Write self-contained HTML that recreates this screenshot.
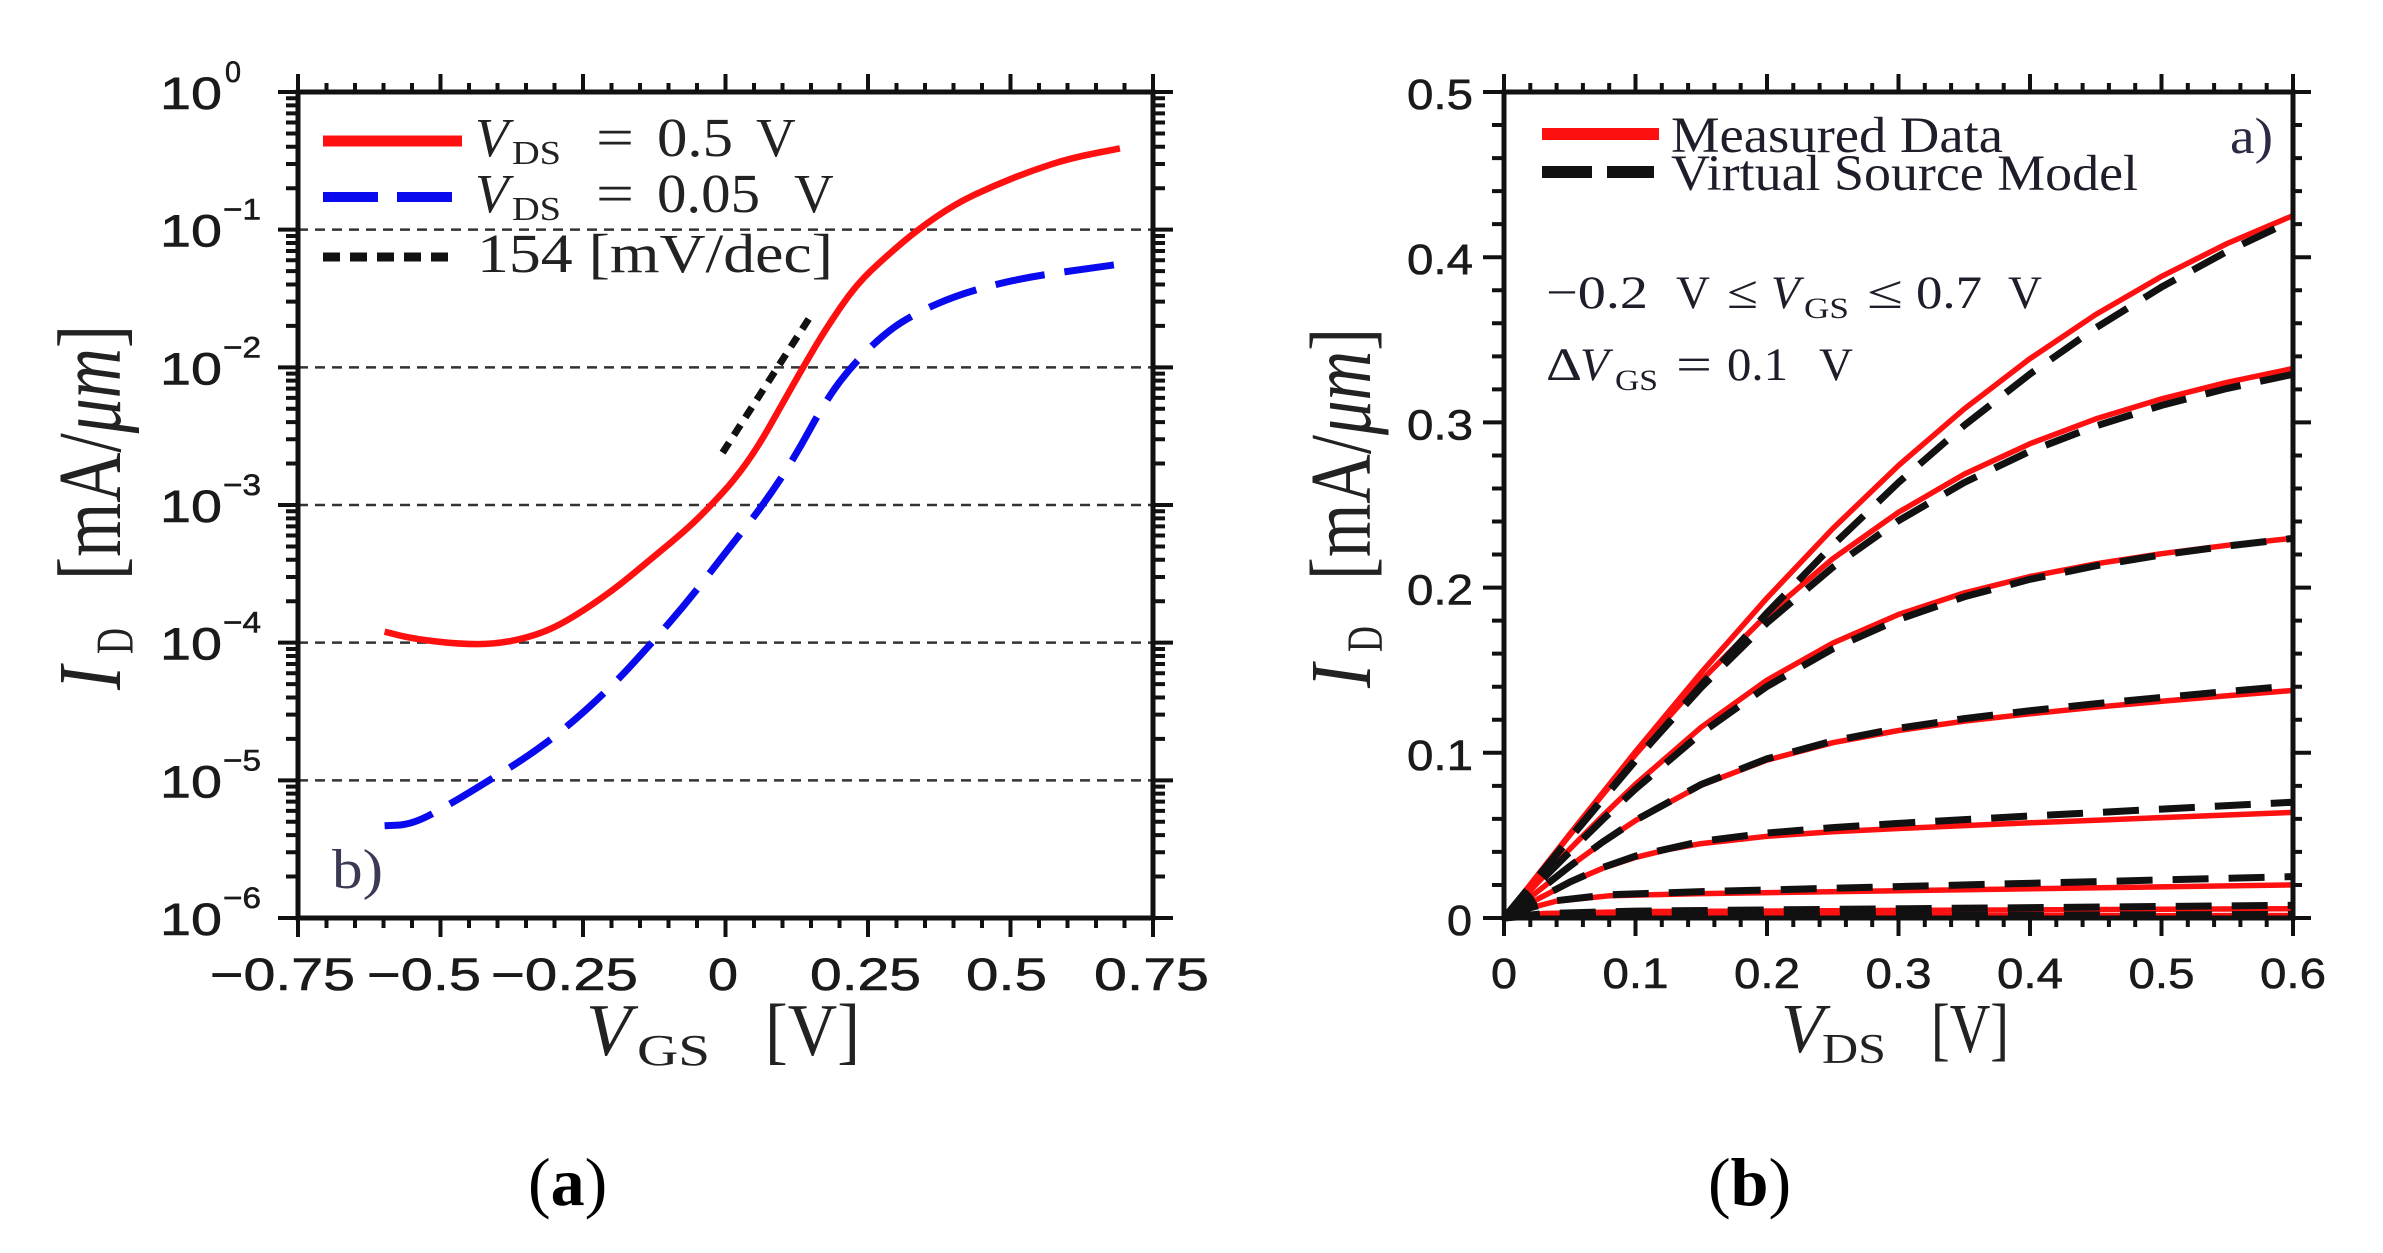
<!DOCTYPE html>
<html><head><meta charset="utf-8"><style>html,body{margin:0;padding:0;background:#fff}svg{display:block}</style></head>
<body>
<svg width="2383" height="1253" viewBox="0 0 2383 1253" xmlns="http://www.w3.org/2000/svg">
<rect width="2383" height="1253" fill="#fff"/>

<!-- ================= LEFT PLOT ================= -->
<g stroke="#333" stroke-width="2.5" stroke-dasharray="10 7">
<line x1="298" y1="229.67" x2="1153" y2="229.67"/>
<line x1="298" y1="367.33" x2="1153" y2="367.33"/>
<line x1="298" y1="505" x2="1153" y2="505"/>
<line x1="298" y1="642.67" x2="1153" y2="642.67"/>
<line x1="298" y1="780.33" x2="1153" y2="780.33"/>
</g>

<path fill="none" stroke="#ff1010" stroke-width="6.5" stroke-linejoin="round" d="M384.6,631.7 L398.3,635.15 Q412,638.6 435.35,641.35 Q458.7,644.1 477.85,644.1 Q497,644.1 516.05,639.95 Q535.1,635.8 550.5,628.9 Q565.9,622 588.7,606.85 Q611.5,591.7 630.6,575.9 Q649.7,560.1 668.8,544.25 Q687.9,528.4 699.6,516.7 Q711.3,505 722.7,492.6 Q734.1,480.2 745.5,464.4 Q756.9,448.6 768.3,428.6 Q779.7,408.6 791.35,387.95 Q803,367.3 814.4,348.05 Q825.8,328.8 840.9,306.75 Q856,284.7 871.4,270.25 Q886.8,255.8 902.2,242.75 Q917.6,229.7 936.7,216.6 Q955.8,203.5 974.9,194.55 Q994,185.6 1013.1,178.05 Q1032.2,170.5 1051.3,164.3 Q1070.4,158.1 1095.15,153.25 L1119.9,148.4"/>
<path fill="none" stroke="#0a0aee" stroke-width="7" stroke-dasharray="50 20" stroke-linejoin="round" d="M384.6,825.8 L398.6,825.1 Q412.6,824.4 431.7,814.1 Q450.8,803.8 469.9,792.1 Q489,780.4 508.05,768.65 Q527.1,756.9 546.5,742.45 Q565.9,728 588.7,707.35 Q611.5,686.7 630.6,666 Q649.7,645.3 668.8,623.3 Q687.9,601.3 707,576.55 Q726.1,551.8 745.2,527.7 Q764.3,503.6 779.65,480.2 Q795,456.8 810.4,428.6 Q825.8,400.4 839.2,382.5 Q852.6,364.6 869.7,348.05 Q886.8,331.5 902.2,321.9 Q917.6,312.3 936.7,304.05 Q955.8,295.8 974.9,290.25 Q994,284.7 1013.1,280.6 Q1032.2,276.5 1051.3,273.75 Q1070.4,271 1095.15,267.55 L1119.9,264.1"/>
<line x1="722.6" y1="452.7" x2="810.4" y2="316.4" stroke="#111" stroke-width="7" stroke-dasharray="12 9"/>

<rect x="298" y="92" width="855" height="826" fill="none" stroke="#111" stroke-width="5"/>
<path fill="none" stroke="#111" stroke-width="4" d="
M298 92V74M440.5 92V74M583 92V74M725.5 92V74M868 92V74M1010.5 92V74M1153 92V74
M326.5 92V83M355 92V83M383.5 92V83M412 92V83M469 92V83M497.5 92V83M526 92V83M554.5 92V83M611.5 92V83M640 92V83M668.5 92V83M697 92V83M754 92V83M782.5 92V83M811 92V83M839.5 92V83M896.5 92V83M925 92V83M953.5 92V83M982 92V83M1039 92V83M1067.5 92V83M1096 92V83M1124.5 92V83
M298 918V937M440.5 918V937M583 918V937M725.5 918V937M868 918V937M1010.5 918V937M1153 918V937
M326.5 918V928M355 918V928M383.5 918V928M412 918V928M469 918V928M497.5 918V928M526 918V928M554.5 918V928M611.5 918V928M640 918V928M668.5 918V928M697 918V928M754 918V928M782.5 918V928M811 918V928M839.5 918V928M896.5 918V928M925 918V928M953.5 918V928M982 918V928M1039 918V928M1067.5 918V928M1096 918V928M1124.5 918V928
M298 92H278M298 229.67H278M298 367.33H278M298 505H278M298 642.67H278M298 780.33H278M298 918H278
M1153 92H1173M1153 229.67H1173M1153 367.33H1173M1153 505H1173M1153 642.67H1173M1153 780.33H1173M1153 918H1173
M298 188.22H286M298 163.98H286M298 146.78H286M298 133.44H286M298 122.54H286M298 113.33H286M298 105.35H286M298 98.3H286
M298 325.88H286M298 301.64H286M298 284.44H286M298 271.1H286M298 260.2H286M298 250.99H286M298 243.01H286M298 235.96H286
M298 463.55H286M298 439.31H286M298 422.11H286M298 408.77H286M298 397.87H286M298 388.66H286M298 380.68H286M298 373.63H286
M298 601.22H286M298 576.98H286M298 559.78H286M298 546.44H286M298 535.54H286M298 526.33H286M298 518.35H286M298 511.3H286
M298 738.88H286M298 714.64H286M298 697.44H286M298 684.1H286M298 673.2H286M298 663.99H286M298 656.01H286M298 648.96H286
M298 876.55H286M298 852.31H286M298 835.11H286M298 821.77H286M298 810.87H286M298 801.66H286M298 793.68H286M298 786.63H286
M1153 188.22H1165M1153 163.98H1165M1153 146.78H1165M1153 133.44H1165M1153 122.54H1165M1153 113.33H1165M1153 105.35H1165M1153 98.3H1165
M1153 325.88H1165M1153 301.64H1165M1153 284.44H1165M1153 271.1H1165M1153 260.2H1165M1153 250.99H1165M1153 243.01H1165M1153 235.96H1165
M1153 463.55H1165M1153 439.31H1165M1153 422.11H1165M1153 408.77H1165M1153 397.87H1165M1153 388.66H1165M1153 380.68H1165M1153 373.63H1165
M1153 601.22H1165M1153 576.98H1165M1153 559.78H1165M1153 546.44H1165M1153 535.54H1165M1153 526.33H1165M1153 518.35H1165M1153 511.3H1165
M1153 738.88H1165M1153 714.64H1165M1153 697.44H1165M1153 684.1H1165M1153 673.2H1165M1153 663.99H1165M1153 656.01H1165M1153 648.96H1165
M1153 876.55H1165M1153 852.31H1165M1153 835.11H1165M1153 821.77H1165M1153 810.87H1165M1153 801.66H1165M1153 793.68H1165M1153 786.63H1165
"/>

<!-- left y tick labels -->
<g font-family="Liberation Sans, Arial, sans-serif" fill="#1a1a1a" stroke="#1a1a1a" stroke-width="0.6">
<g font-size="45">
<text x="160" y="109" textLength="62" lengthAdjust="spacingAndGlyphs">10</text>
<text x="160" y="246.67" textLength="62" lengthAdjust="spacingAndGlyphs">10</text>
<text x="160" y="384.33" textLength="62" lengthAdjust="spacingAndGlyphs">10</text>
<text x="160" y="522" textLength="62" lengthAdjust="spacingAndGlyphs">10</text>
<text x="160" y="659.67" textLength="62" lengthAdjust="spacingAndGlyphs">10</text>
<text x="160" y="797.33" textLength="62" lengthAdjust="spacingAndGlyphs">10</text>
<text x="160" y="935" textLength="62" lengthAdjust="spacingAndGlyphs">10</text>
</g>
<g font-size="30">
<text x="225" y="82" textLength="16" lengthAdjust="spacingAndGlyphs">0</text>
<text x="223" y="219.67" textLength="38" lengthAdjust="spacingAndGlyphs">−1</text>
<text x="223" y="357.33" textLength="38" lengthAdjust="spacingAndGlyphs">−2</text>
<text x="223" y="495" textLength="38" lengthAdjust="spacingAndGlyphs">−3</text>
<text x="223" y="632.67" textLength="38" lengthAdjust="spacingAndGlyphs">−4</text>
<text x="223" y="770.33" textLength="38" lengthAdjust="spacingAndGlyphs">−5</text>
<text x="223" y="908" textLength="38" lengthAdjust="spacingAndGlyphs">−6</text>
</g>
<g font-size="45">
<text x="210" y="990" textLength="145" lengthAdjust="spacingAndGlyphs">−0.75</text>
<text x="367" y="990" textLength="114" lengthAdjust="spacingAndGlyphs">−0.5</text>
<text x="491" y="990" textLength="147" lengthAdjust="spacingAndGlyphs">−0.25</text>
<text x="708" y="990" textLength="30" lengthAdjust="spacingAndGlyphs">0</text>
<text x="810" y="990" textLength="111" lengthAdjust="spacingAndGlyphs">0.25</text>
<text x="966" y="990" textLength="81" lengthAdjust="spacingAndGlyphs">0.5</text>
<text x="1094" y="990" textLength="115" lengthAdjust="spacingAndGlyphs">0.75</text>
</g>
</g>

<!-- left legend -->
<line x1="323" y1="141" x2="462" y2="141" stroke="#ff1010" stroke-width="11"/>
<line x1="323" y1="197" x2="455" y2="197" stroke="#0a0aee" stroke-width="10" stroke-dasharray="55 19"/>
<line x1="323" y1="257" x2="458" y2="257" stroke="#111" stroke-width="9" stroke-dasharray="17 10"/>
<g font-family="Liberation Serif, 'Times New Roman', serif" fill="#222">
<text x="475" y="156" font-size="55" font-style="italic">V</text>
<text x="512" y="164" font-size="34" textLength="49" lengthAdjust="spacingAndGlyphs">DS</text>
<text x="596" y="156" font-size="55" textLength="38" lengthAdjust="spacingAndGlyphs">=</text>
<text x="657" y="156" font-size="55" textLength="76" lengthAdjust="spacingAndGlyphs">0.5</text>
<text x="756" y="156" font-size="55">V</text>
<text x="475" y="212" font-size="55" font-style="italic">V</text>
<text x="512" y="220" font-size="34" textLength="49" lengthAdjust="spacingAndGlyphs">DS</text>
<text x="596" y="212" font-size="55" textLength="38" lengthAdjust="spacingAndGlyphs">=</text>
<text x="657" y="212" font-size="55" textLength="103" lengthAdjust="spacingAndGlyphs">0.05</text>
<text x="794" y="212" font-size="55">V</text>
<text x="477" y="272" font-size="55" textLength="356" lengthAdjust="spacingAndGlyphs">154  [mV/dec]</text>
<text x="332" y="888" font-size="56" fill="#3a3a55" textLength="51" lengthAdjust="spacingAndGlyphs">b)</text>
</g>

<!-- left axis labels -->
<g font-family="Liberation Serif, 'Times New Roman', serif" fill="#222">
<g transform="translate(120,690) rotate(-90) scale(1,1.25)">
<text x="0" y="0" font-size="72" font-style="italic">I</text>
<text x="36" y="10" font-size="42" textLength="26" lengthAdjust="spacingAndGlyphs">D</text>
<text x="110" y="0" font-size="72" textLength="255" lengthAdjust="spacingAndGlyphs">[mA/<tspan font-style="italic">μm</tspan>]</text>
</g>
<text x="586" y="1055" font-size="74" font-style="italic">V</text>
<text x="637" y="1065" font-size="44" textLength="73" lengthAdjust="spacingAndGlyphs">GS</text>
<text x="765" y="1055" font-size="74" textLength="95" lengthAdjust="spacingAndGlyphs">[V]</text>
</g>

<!-- ================= RIGHT PLOT ================= -->
<g fill="none" stroke="#ff1010" stroke-width="5.5" stroke-linejoin="round">
<polyline points="1504,918 1569.75,834.1 1635.5,751.6 1701.25,672.5 1767,598.0 1832.75,528.6 1898.5,465.5 1964.25,408.9 2030,358.6 2095.75,314.5 2161.5,276.4 2227.25,243.5 2293,215.6"/>
<polyline points="1504,918 1569.75,835.2 1635.5,754.6 1701.25,680.4 1767,614.7 1832.75,558.7 1898.5,512.3 1964.25,474.1 2030,443.7 2095.75,418.9 2161.5,398.9 2227.25,382.3 2293,368.5"/>
<polyline points="1504,918 1536.9,883.5 1569.75,849.2 1602.6,815.9 1635.5,784.2 1701.25,727.2 1767,680.1 1832.75,643.1 1898.5,614.5 1964.25,592.9 2030,576.5 2095.75,563.8 2161.5,553.7 2227.25,545.3 2293,538.2"/>
<polyline points="1504,918 1536.9,892.0 1569.75,866.4 1602.6,842.4 1635.5,820.6 1701.25,785.2 1767,760.1 1832.75,742.7 1898.5,730.5 1964.25,721.2 2030,713.8 2095.75,707.2 2161.5,701.3 2227.25,695.8 2293,690.4"/>
<polyline points="1504,918 1536.9,899.5 1569.75,882.4 1602.6,868.3 1635.5,857.4 1668.4,849.4 1701.25,843.6 1767,836.3 1832.75,831.8 1898.5,828.5 1964.25,825.6 2030,822.8 2095.75,820.2 2161.5,817.6 2227.25,815.0 2293,812.4"/>
<polyline points="1504,918 1530.3,907.9 1556.6,901.1 1609.2,895.8 1701.25,893.6 2293,884.9"/>
<polyline points="1504,918 1543.5,913.5 1635.5,911.6 2293,908.7"/>
<polyline points="1504,918 1530,916 2293,915.5"/>
</g>
<g fill="none" stroke="#111" stroke-width="7" stroke-dasharray="36 20" stroke-linejoin="round">
<polyline points="1504,918 1569.75,838.7 1635.5,760.6 1701.25,684.9 1767,612.9 1832.75,545.3 1898.5,482.5 1964.25,425.4 2030,374.0 2095.75,327.9 2161.5,287.1 2227.25,251.3 2293,220.2"/>
<polyline points="1504,918 1569.75,837.8 1635.5,759.7 1701.25,687.4 1767,622.8 1832.75,567.3 1898.5,520.7 1964.25,482.5 2030,451.2 2095.75,426.0 2161.5,405.4 2227.25,388.4 2293,374.3"/>
<polyline points="1504,918 1536.9,884.8 1569.75,851.9 1602.6,819.7 1635.5,789.0 1701.25,733.1 1767,686.4 1832.75,648.8 1898.5,619.5 1964.25,596.8 2030,579.3 2095.75,565.8 2161.5,554.9 2227.25,546.0 2293,538.4"/>
<polyline points="1504,918 1536.9,892.0 1569.75,866.3 1602.6,842.1 1635.5,820.2 1701.25,784.4 1767,758.8 1832.75,741.0 1898.5,728.2 1964.25,718.6 2030,710.7 2095.75,703.7 2161.5,697.5 2227.25,691.5 2293,685.7"/>
<polyline points="1504,918 1536.9,899.4 1569.75,882.1 1602.6,867.5 1635.5,856.1 1701.25,841.3 1767,833.0 1832.75,827.6 1898.5,823.4 1964.25,819.6 2030,816.0 2095.75,812.6 2161.5,809.1 2227.25,805.6 2293,802.2"/>
<polyline points="1504,918 1530.3,907.8 1556.6,900.6 1609.2,894.7 1701.25,891.6 2293,876.6"/>
<polyline points="1504,918 1543.5,913.5 1635.5,911.1 2293,905.3"/>
<polyline points="1504,918 1530,916 2293,914.5"/>
</g>

<rect x="1504" y="92" width="789" height="826" fill="none" stroke="#111" stroke-width="5"/>
<path fill="none" stroke="#111" stroke-width="4" d="
M1504 92V74M1635.5 92V74M1767 92V74M1898.5 92V74M2030 92V74M2161.5 92V74M2293 92V74
M1530.3 92V83M1556.6 92V83M1582.9 92V83M1609.2 92V83M1661.8 92V83M1688.1 92V83M1714.4 92V83M1740.7 92V83M1793.3 92V83M1819.6 92V83M1845.9 92V83M1872.2 92V83M1924.8 92V83M1951.1 92V83M1977.4 92V83M2003.7 92V83M2056.3 92V83M2082.6 92V83M2108.9 92V83M2135.2 92V83M2187.8 92V83M2214.1 92V83M2240.4 92V83M2266.7 92V83
M1504 918V936M1635.5 918V936M1767 918V936M1898.5 918V936M2030 918V936M2161.5 918V936M2293 918V936
M1530.3 918V927M1556.6 918V927M1582.9 918V927M1609.2 918V927M1661.8 918V927M1688.1 918V927M1714.4 918V927M1740.7 918V927M1793.3 918V927M1819.6 918V927M1845.9 918V927M1872.2 918V927M1924.8 918V927M1951.1 918V927M1977.4 918V927M2003.7 918V927M2056.3 918V927M2082.6 918V927M2108.9 918V927M2135.2 918V927M2187.8 918V927M2214.1 918V927M2240.4 918V927M2266.7 918V927
M1504 918H1483M1504 752.8H1483M1504 587.6H1483M1504 422.4H1483M1504 257.2H1483M1504 92H1483
M2293 918H2311M2293 752.8H2311M2293 587.6H2311M2293 422.4H2311M2293 257.2H2311M2293 92H2311
M1504 884.96H1492M1504 851.92H1492M1504 818.88H1492M1504 785.84H1492M1504 719.76H1492M1504 686.72H1492M1504 653.68H1492M1504 620.64H1492M1504 554.56H1492M1504 521.52H1492M1504 488.48H1492M1504 455.44H1492M1504 389.36H1492M1504 356.32H1492M1504 323.28H1492M1504 290.24H1492M1504 224.16H1492M1504 191.12H1492M1504 158.08H1492M1504 125.04H1492
M2293 884.96H2302M2293 851.92H2302M2293 818.88H2302M2293 785.84H2302M2293 719.76H2302M2293 686.72H2302M2293 653.68H2302M2293 620.64H2302M2293 554.56H2302M2293 521.52H2302M2293 488.48H2302M2293 455.44H2302M2293 389.36H2302M2293 356.32H2302M2293 323.28H2302M2293 290.24H2302M2293 224.16H2302M2293 191.12H2302M2293 158.08H2302M2293 125.04H2302
"/>

<!-- right tick labels -->
<g font-family="Liberation Sans, Arial, sans-serif" fill="#1a1a1a" stroke="#1a1a1a" stroke-width="0.6" font-size="43">
<text x="1407" y="109" textLength="66" lengthAdjust="spacingAndGlyphs">0.5</text>
<text x="1407" y="274.2" textLength="66" lengthAdjust="spacingAndGlyphs">0.4</text>
<text x="1407" y="439.4" textLength="66" lengthAdjust="spacingAndGlyphs">0.3</text>
<text x="1407" y="604.6" textLength="66" lengthAdjust="spacingAndGlyphs">0.2</text>
<text x="1407" y="769.8" textLength="66" lengthAdjust="spacingAndGlyphs">0.1</text>
<text x="1447" y="935" textLength="25" lengthAdjust="spacingAndGlyphs">0</text>
<text x="1491" y="988" textLength="26" lengthAdjust="spacingAndGlyphs">0</text>
<text x="1602.5" y="988" textLength="66" lengthAdjust="spacingAndGlyphs">0.1</text>
<text x="1734" y="988" textLength="66" lengthAdjust="spacingAndGlyphs">0.2</text>
<text x="1865.5" y="988" textLength="66" lengthAdjust="spacingAndGlyphs">0.3</text>
<text x="1997" y="988" textLength="66" lengthAdjust="spacingAndGlyphs">0.4</text>
<text x="2128.5" y="988" textLength="66" lengthAdjust="spacingAndGlyphs">0.5</text>
<text x="2260" y="988" textLength="66" lengthAdjust="spacingAndGlyphs">0.6</text>
</g>

<!-- right legend / annotations -->
<line x1="1542" y1="134" x2="1659" y2="134" stroke="#ff1010" stroke-width="12"/>
<line x1="1542" y1="172" x2="1654" y2="172" stroke="#111" stroke-width="12" stroke-dasharray="50 15"/>
<g font-family="Liberation Serif, 'Times New Roman', serif" fill="#1e1e2a">
<text x="1671" y="152" font-size="51" textLength="332" lengthAdjust="spacingAndGlyphs">Measured Data</text>
<text x="1671" y="190" font-size="51" textLength="467" lengthAdjust="spacingAndGlyphs">Virtual Source Model</text>
<text x="2230" y="153" font-size="51" fill="#2a2a45" textLength="43" lengthAdjust="spacingAndGlyphs">a)</text>
<text x="1546" y="308" font-size="47" textLength="102" lengthAdjust="spacingAndGlyphs">−0.2</text>
<text x="1676" y="308" font-size="47">V</text>
<text x="1727" y="308" font-size="47" textLength="31" lengthAdjust="spacingAndGlyphs">≤</text>
<text x="1771" y="308" font-size="47" font-style="italic">V</text>
<text x="1804" y="318" font-size="30" textLength="45" lengthAdjust="spacingAndGlyphs">GS</text>
<text x="1867" y="308" font-size="47" textLength="36" lengthAdjust="spacingAndGlyphs">≤</text>
<text x="1916" y="308" font-size="47" textLength="66" lengthAdjust="spacingAndGlyphs">0.7</text>
<text x="2008" y="308" font-size="47">V</text>
<text x="1546" y="380" font-size="47" textLength="36" lengthAdjust="spacingAndGlyphs">Δ</text>
<text x="1580" y="380" font-size="47" font-style="italic">V</text>
<text x="1615" y="390" font-size="30" textLength="43" lengthAdjust="spacingAndGlyphs">GS</text>
<text x="1676" y="380" font-size="47" textLength="36" lengthAdjust="spacingAndGlyphs">=</text>
<text x="1727" y="380" font-size="47" textLength="61" lengthAdjust="spacingAndGlyphs">0.1</text>
<text x="1819" y="380" font-size="47">V</text>
</g>

<!-- right axis labels -->
<g font-family="Liberation Serif, 'Times New Roman', serif" fill="#222">
<g transform="translate(1370,688) rotate(-90) scale(1,1.2)">
<text x="0" y="0" font-size="72" font-style="italic">I</text>
<text x="36" y="10" font-size="42" textLength="26" lengthAdjust="spacingAndGlyphs">D</text>
<text x="108" y="0" font-size="72" textLength="252" lengthAdjust="spacingAndGlyphs">[mA/<tspan font-style="italic">μm</tspan>]</text>
</g>
<text x="1781" y="1052" font-size="70" font-style="italic">V</text>
<text x="1822" y="1063" font-size="42" textLength="64" lengthAdjust="spacingAndGlyphs">DS</text>
<text x="1931" y="1052" font-size="70" textLength="78" lengthAdjust="spacingAndGlyphs">[V]</text>
</g>

<!-- captions -->
<g font-family="Liberation Serif, 'Times New Roman', serif" fill="#000" font-size="68">
<text x="528" y="1205">(<tspan font-weight="bold">a</tspan>)</text>
<text x="1708" y="1205">(<tspan font-weight="bold">b</tspan>)</text>
</g>
</svg>
</body></html>
